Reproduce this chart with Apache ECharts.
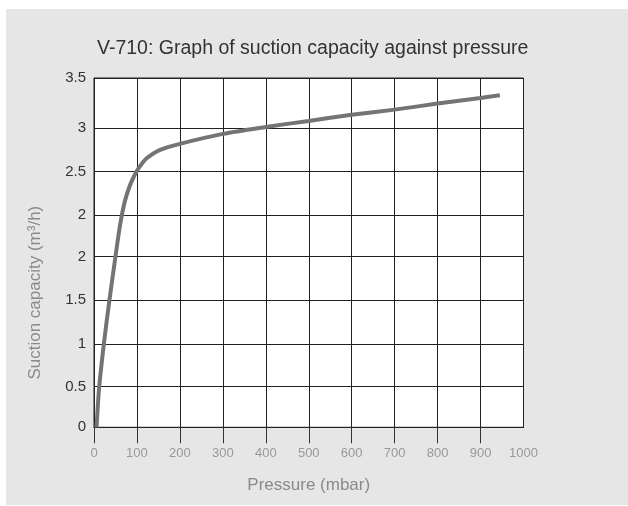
<!DOCTYPE html>
<html>
<head>
<meta charset="utf-8">
<script src="https://cdn.jsdelivr.net/npm/echarts@6/dist/echarts.min.js"></script>
<style>
  html, body { margin: 0; padding: 0; background: #ffffff; }
  #panel { position: absolute; left: 6px; top: 9px; width: 622px; height: 496px; background: #e6e6e6; }
  #chart { position: absolute; left: 0; top: 0; width: 628px; height: 506px; }
</style>
</head>
<body>
<div id="panel"></div>
<div id="chart"></div>
<script>
// Data (pressure in mbar, capacity in axis tick units as drawn on the source chart)
const pressure = [6, 12, 23, 36, 50, 57, 63, 70, 77, 86, 100, 112, 123, 154, 200, 300, 400, 500, 600, 700, 800, 900, 945];
const capacity = [0, 0.92, 1.93, 2.94, 3.94, 4.43, 4.80, 5.14, 5.39, 5.64, 5.92, 6.09, 6.21, 6.40, 6.54, 6.77, 6.93, 7.07, 7.21, 7.33, 7.47, 7.60, 7.66];
// Y tick positions (axis units) and their printed labels
const yTickValues = [0, 0.94, 1.92, 2.94, 3.94, 4.90, 5.90, 6.90, 8.06];
const yTickLabels = ['0', '0.5', '1', '1.5', '2', '2', '2.5', '3', '3.5'];
const xTickValues = [0, 100, 200, 300, 400, 500, 600, 700, 800, 900];

const chart = echarts.init(document.getElementById('chart'), null, { renderer: 'canvas' });
const font = "'Liberation Sans', Arial, sans-serif";
chart.setOption({
  backgroundColor: 'transparent',
  animation: false,
  title: {
    text: 'V-710: Graph of suction capacity against pressure',
    left: 92,
    top: 34,
    textStyle: { fontFamily: font, fontSize: 19.5, fontWeight: 'normal', color: '#333' }
  },
  grid: {
    left: 94, top: 78, width: 429.5, height: 349.3,
    show: true, backgroundColor: '#ffffff', borderColor: '#222', borderWidth: 1
  },
  xAxis: {
    type: 'value', min: 0, max: 1000, interval: 100,
    name: 'Pressure (mbar)', nameLocation: 'middle', nameGap: 50,
    nameTextStyle: { fontFamily: font, fontSize: 17, color: '#8a8a8a' },
    axisLine: { show: true, lineStyle: { color: '#222', width: 1 } },
    axisTick: { show: true, length: 16, customValues: xTickValues, lineStyle: { color: '#333' } },
    axisLabel: { margin: 20, fontFamily: font, fontSize: 13, color: '#999', formatter: v => String(v) },
    splitLine: { show: true, lineStyle: { color: '#222', width: 1 } }
  },
  yAxis: {
    type: 'value', min: 0, max: 8.06,
    name: 'Suction capacity (m³/h)', nameLocation: 'middle', nameGap: 50,
    nameTextStyle: { fontFamily: font, fontSize: 17, color: '#8a8a8a', padding: [0, 80, 0, 0] },
    axisLine: { show: true, lineStyle: { color: '#222', width: 1 } },
    axisTick: { show: false, customValues: yTickValues },
    axisLabel: {
      customValues: yTickValues, margin: 8, fontFamily: font, fontSize: 15, color: '#333',
      formatter: function (v) {
        const i = yTickValues.indexOf(v);
        return i >= 0 ? yTickLabels[i] : '';
      }
    },
    splitLine: { show: true, lineStyle: { color: '#222', width: 1 } }
  },
  series: [{
    type: 'line',
    data: pressure.map((p, i) => [p, capacity[i]]),
    smooth: 0.3,
    showSymbol: false,
    lineStyle: { color: '#747474', width: 4 },
    z: 5
  }]
});
</script>
</body>
</html>
